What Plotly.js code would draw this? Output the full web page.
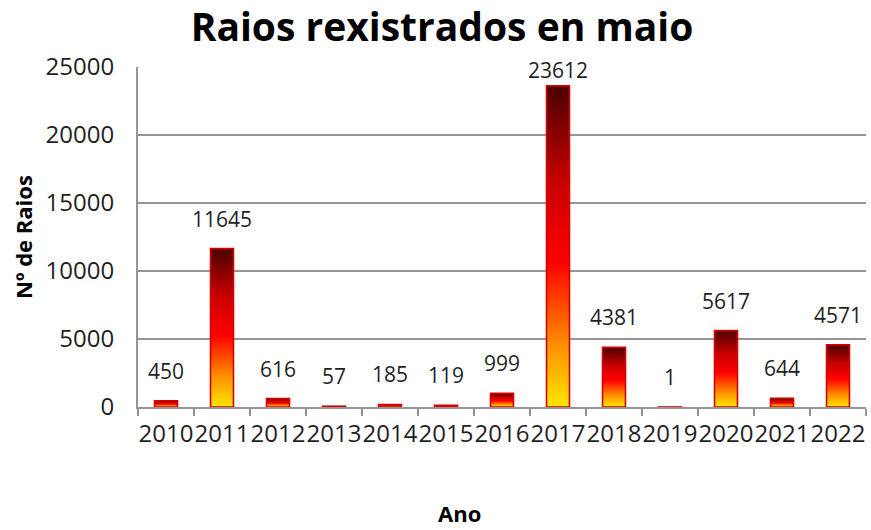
<!DOCTYPE html>
<html>
<head>
<meta charset="utf-8">
<script src="https://cdn.plot.ly/plotly-3.0.1.min.js"></script>
<style>
  html, body { margin: 0; padding: 0; background: #fff; }
  #chart { width: 871px; height: 530px; }
</style>
</head>
<body>
<div id="chart"></div>
<script>
// ---- data ----
const years = ["2010","2011","2012","2013","2014","2015","2016","2017","2018","2019","2020","2021","2022"];
const strikes = [450, 11645, 616, 57, 185, 119, 999, 23612, 4381, 1, 5617, 644, 4571];
const chartTitle = "Raios rexistrados en maio";
const xTitle = "Ano";
const yTitle = "Nº de Raios";

// ---- layout constants ----
const W = 871, H = 530;
const M = {l: 138, r: 5, t: 67, b: 123};
const plotH = H - M.t - M.b;
const yMax = 25000;
const grey = "#959595";
const font = "'Open Sans', 'DejaVu Sans', sans-serif";

// label placement: above bar, but kept inside plot top
const labelAnns = years.map((yr, i) => {
  const barTopPx = plotH * strikes[i] / yMax;          // px from bottom
  const room = plotH - barTopPx;                       // px to plot top
  const shift = Math.max(0, Math.min(14, room - 24));
  return {
    x: i, y: strikes[i], xref: "x", yref: "y",
    text: String(strikes[i]),
    showarrow: false, yanchor: "bottom", yshift: shift,
    font: {family: font, size: 21, color: "#1f1f1f"}
  };
});

const trace = {
  type: "bar",
  x: years,
  y: strikes,
  marker: {color: "#ff0000", line: {color: "#d40000", width: 1.6}},
  hoverinfo: "skip"
};

const layout = {
  width: W, height: H,
  margin: M,
  paper_bgcolor: "#ffffff",
  plot_bgcolor: "#ffffff",
  showlegend: false,
  bargap: 0.59,
  title: {
    text: "<b>" + chartTitle + "</b>",
    x: 442 / W, xanchor: "center",
    y: 1 - 27 / H, yanchor: "middle",
    font: {family: font, size: 39, color: "#000000"}
  },
  xaxis: {
    type: "category",
    categoryorder: "array", categoryarray: years,
    range: [-0.5, years.length - 0.5],
    autorange: false,
    showgrid: false,
    showline: true, linecolor: grey, linewidth: 2,
    ticks: "outside", tickson: "boundaries", ticklen: 7, tickwidth: 2, tickcolor: grey,
    tickangle: 0,
    tickfont: {family: font, size: 24, color: "#1f1f1f"},
    ticklabelstandoff: 4,
    fixedrange: true
  },
  yaxis: {
    range: [0, yMax], autorange: false, dtick: 5000, tick0: 0,
    tickformat: "d",
    showgrid: true, gridcolor: grey, gridwidth: 2,
    zeroline: false,
    showline: true, linecolor: grey, linewidth: 2,
    ticks: "",
    ticklabelstandoff: 17,
    tickfont: {family: font, size: 24, color: "#1f1f1f"},
    fixedrange: true
  },
  annotations: labelAnns.concat([
    {
      text: "<b>" + xTitle + "</b>", xref: "paper", yref: "paper",
      x: (459 - M.l) / (W - M.l - M.r), y: -(513 - (H - M.b)) / plotH,
      xanchor: "center", yanchor: "middle", showarrow: false, borderpad: 0,
      font: {family: font, size: 22, color: "#000000"}
    },
    {
      text: "<b>" + yTitle + "</b>", xref: "paper", yref: "paper",
      x: -(M.l - 23) / (W - M.l - M.r), y: 0.5, textangle: -90,
      xanchor: "center", yanchor: "middle", showarrow: false,
      font: {family: font, size: 22, color: "#000000"}
    }
  ])
};

Plotly.newPlot("chart", [trace], layout, {staticPlot: true, displayModeBar: false}).then(gd => {
  // vertical gradient fill for each bar (yellow -> red -> dark red)
  const svgNS = "http://www.w3.org/2000/svg";
  const svg = gd.querySelector(".main-svg");
  let defs = svg.querySelector("defs");
  if (!defs) { defs = document.createElementNS(svgNS, "defs"); svg.insertBefore(defs, svg.firstChild); }
  const grad = document.createElementNS(svgNS, "linearGradient");
  grad.setAttribute("id", "barGrad");
  grad.setAttribute("x1", "0"); grad.setAttribute("y1", "1");
  grad.setAttribute("x2", "0"); grad.setAttribute("y2", "0");
  [[0, "#ffe600"], [0.2, "#ff8c00"], [0.45, "#ff0000"], [0.7, "#c80000"], [1, "#4a0000"]].forEach(([o, c]) => {
    const s = document.createElementNS(svgNS, "stop");
    s.setAttribute("offset", o); s.setAttribute("stop-color", c);
    grad.appendChild(s);
  });
  defs.appendChild(grad);
  gd.querySelectorAll(".barlayer .point path").forEach(p => { p.style.fill = "url(#barGrad)"; });
});
</script>
</body>
</html>
